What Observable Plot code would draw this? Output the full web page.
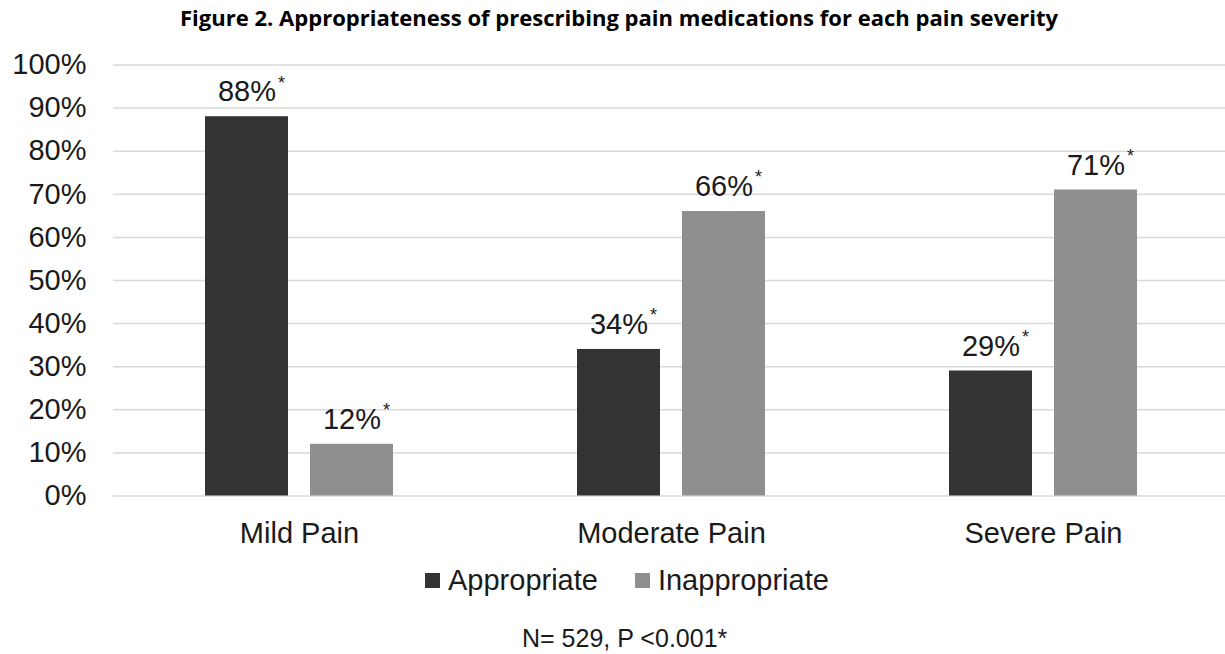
<!DOCTYPE html>
<html>
<head>
<meta charset="utf-8">
<script src="https://cdn.jsdelivr.net/npm/d3@7"></script>
<script src="https://cdn.jsdelivr.net/npm/@observablehq/plot@0.6"></script>
<style>
  html, body { margin: 0; padding: 0; background: #fff; }
  body { position: relative; width: 1225px; height: 654px; overflow: hidden; font-family: "Liberation Sans", Arial, sans-serif; color: #1a1a1a; }
  #title { position: absolute; left: 180px; top: 8px; font-family: "Open Sans", Lato, sans-serif; font-weight: 700; font-size: 21px; line-height: 21px; white-space: nowrap; transform-origin: 0 0; color: #000; }
  #chart { position: absolute; left: 0; top: 36px; }
  #legend { position: absolute; left: 425px; top: 566px; height: 29px; display: flex; align-items: center; font-size: 29px; line-height: 29px; white-space: nowrap; }
  #legend .sw { width: 15px; height: 15px; margin-right: 8px; }
  #legend .item { display: flex; align-items: center; }
  #legend .item + .item { margin-left: 37px; }
  #caption { position: absolute; left: 522px; top: 626px; font-size: 25px; line-height: 25px; white-space: nowrap; }
</style>
</head>
<body>
<div id="title">Figure 2. Appropriateness of prescribing pain medications for each pain severity</div>
<div id="chart"></div>
<div id="legend"></div>
<div id="caption">N= 529, P &lt;0.001*</div>
<script>
// Share of prescriptions judged appropriate / inappropriate per pain severity (%)
const categories = ["Mild Pain", "Moderate Pain", "Severe Pain"];
const series = ["Appropriate", "Inappropriate"];
const appropriate = [88, 34, 29];
const inappropriate = [12, 66, 71];
const seriesColors = ["#333333", "#8f8f8f"];
const yTicks = [0, 10, 20, 30, 40, 50, 60, 70, 80, 90, 100];

const values = [appropriate, inappropriate];
const rows = categories.flatMap((category, i) =>
  series.map((s, j) => ({category, series: s, value: values[j][i]}))
);
const bySeries = s => rows.filter(d => d.series === s);

// Within each category band (372px), the two bars are 83px wide with a 22px gap
const barOffset = 52.5;

const chart = Plot.plot({
  width: 1225,
  height: 520,
  marginTop: 28.5,
  marginBottom: 60.5,
  marginLeft: 113,
  marginRight: 0,
  style: {fontFamily: "'Liberation Sans', Arial, sans-serif", color: "#1a1a1a", background: "#fff"},
  x: {domain: categories, range: [113, 1229], padding: 0, label: null},
  y: {domain: [0, 100], label: null},
  marks: [
    Plot.ruleY(yTicks, {stroke: "#d9d9d9", strokeWidth: 1.5}),
    Plot.barY(bySeries(series[0]), {x: "category", y: "value", fill: seriesColors[0], insetLeft: 92, insetRight: 197}),
    Plot.barY(bySeries(series[1]), {x: "category", y: "value", fill: seriesColors[1], insetLeft: 197, insetRight: 92}),
    // value labels centred over each bar, with a raised significance asterisk
    ...series.map((s, j) => Plot.text(bySeries(s), {
      x: "category", y: "value", text: d => d.value + "%",
      dx: (j === 0 ? -1 : 1) * barOffset, dy: -36, lineAnchor: "top",
      fontSize: 29, fill: "#1a1a1a"
    })),
    ...series.map((s, j) => Plot.text(bySeries(s), {
      x: "category", y: "value", text: () => "*",
      dx: (j === 0 ? -1 : 1) * barOffset + 31, dy: -41, lineAnchor: "top", textAnchor: "start",
      fontSize: 18, fill: "#1a1a1a"
    })),
    Plot.axisY({ticks: yTicks, tickSize: 0, tickPadding: 27, fontSize: 29, tickFormat: d => d + "%"}),
    Plot.axisX({tickSize: 0, tickPadding: 26, fontSize: 29})
  ]
});
document.getElementById("chart").append(chart);

// Legend
const legend = d3.select("#legend");
series.forEach((s, j) => {
  const item = legend.append("div").attr("class", "item");
  item.append("div").attr("class", "sw").style("background", seriesColors[j]);
  item.append("span").text(s);
});

// Fit the title to its set width
const title = document.getElementById("title");
const w = title.getBoundingClientRect().width;
title.style.transform = `scaleX(${878 / w})`;
</script>
</body>
</html>
